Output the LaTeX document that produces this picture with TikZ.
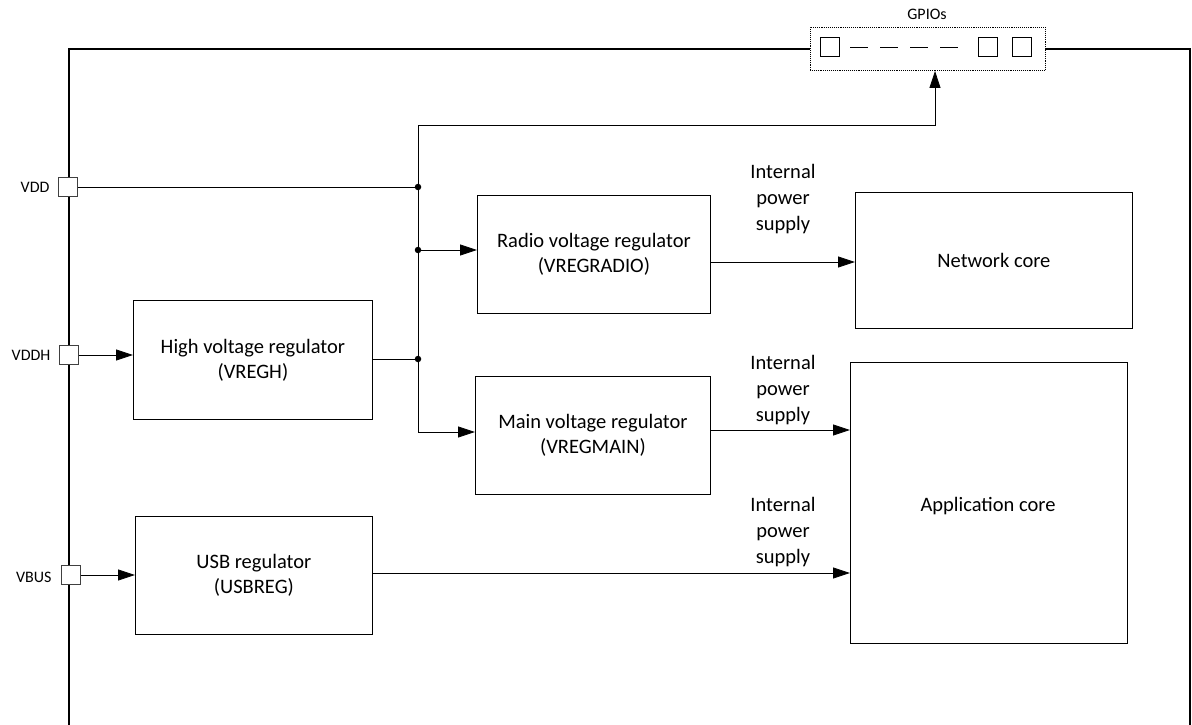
\documentclass[tikz,border=0pt]{standalone}
\usepackage{fontspec}
\setmainfont{Carlito}
\usetikzlibrary{arrows.meta}
\begin{document}
\begin{tikzpicture}[x=1pt,y=-1pt,
  box/.style={draw, line width=0.8pt, fill=white, align=center, inner sep=0pt,
    anchor=north west, font=\fontsize{20.5}{25}\selectfont},
  pin/.style={draw=black!75, line width=0.8pt, fill=white, minimum size=19pt, inner sep=0pt},
  pinlbl/.style={font=\fontsize{16}{18}\selectfont, anchor=east},
  sq/.style={draw, line width=0.8pt, minimum size=19pt, inner sep=0pt},
  wire/.style={line width=0.8pt},
  arr/.style={line width=0.8pt, -{Triangle[length=17pt,width=11pt]}},
  outline/.style={line width=1.6pt},
  dot/.style={circle, fill=black, inner sep=0pt, minimum size=6.5pt},
  lbl/.style={align=center, font=\fontsize{20.5}{26}\selectfont},
]
\useasboundingbox (0,0) rectangle (1192,725);

% GPIO box
\node[draw, densely dotted, line width=0.9pt, minimum width=235pt, minimum height=43pt, inner sep=0pt] (gpio) at (927.5,49) {};
\node[font=\fontsize{16}{18}\selectfont] (gpiolbl) at (927,14) {GPIOs};
\node[sq] (g1) at (830,47) {};
\node[sq] (g2) at (988,47) {};
\node[sq] (g3) at (1022,47) {};
\foreach \x in {850,880,910,940} \draw[wire] (\x,47) -- ++(18,0);

% outline
\coordinate (tl) at (69,49);
\coordinate (bl) at (69,725);
\coordinate (tr) at (1190,49);
\coordinate (br) at (1190,725);
\draw[outline] (bl) -- (tl) -- (gpio.west |- tl);
\draw[outline] (gpio.east |- tr) -- (tr) -- (br);

% boxes
\node[box, minimum width=233pt, minimum height=118pt] (radio) at (477,195) {Radio voltage regulator\\(VREGRADIO)};
\node[box, minimum width=277pt, minimum height=136pt] (net) at (855,192) {Network core};
\node[box, minimum width=239pt, minimum height=119pt] (hv) at (133,300) {High voltage regulator\\(VREGH)};
\node[box, minimum width=235pt, minimum height=118pt] (main) at (475,376) {Main voltage regulator\\(VREGMAIN)};
\node[box, minimum width=277pt, minimum height=281pt] (app) at (850,362) {};
\node[font=\fontsize{20.5}{25}\selectfont] (applbl) at (988,506) {Application core};
\node[box, minimum width=237pt, minimum height=118pt] (usb) at (135,516) {USB regulator\\(USBREG)};

% pins
\node[pin] (vdd) at (68,187) {};
\node[pin] (vddh) at (69,355) {};
\node[pin] (vbus) at (71,575) {};
\node[pinlbl] (vddl) at (53,187) {VDD};
\node[pinlbl] (vddhl) at (54,355) {VDDH};
\node[pinlbl] (vbusl) at (55,577) {VBUS};

% junctions
\coordinate (jt) at (418,125);
\coordinate (gc) at (935,125);
\node[dot] (j1) at (418,187) {};
\node[dot] (j2) at (418,250) {};
\node[dot] (j3) at (418,359) {};
\coordinate (j4) at (418,432);

% wires
\draw[wire] (vdd.east) -- (j1.center);
\draw[arr] (j4) |- (gc) -- (gc |- gpio.south);
\draw[arr] (j2.center) -- (radio.west |- j2);
\draw[arr] (j4) -- (main.west |- j4);
\draw[wire] (hv.east |- j3) -- (j3.center);
\draw[arr] (vddh.east) -- (hv.west |- vddh);
\draw[arr] (vbus.east) -- (usb.west |- vbus);

\coordinate (r1) at (710,262);
\draw[arr] (r1) -- (net.west |- r1);
\coordinate (r2) at (710,430);
\draw[arr] (r2) -- (app.west |- r2);
\coordinate (r3) at (372,573);
\draw[arr] (r3) -- (app.west |- r3);

\node[lbl] (ips1) at (783,199) {Internal\\power\\supply};
\node[lbl] (ips2) at (783,390) {Internal\\power\\supply};
\node[lbl] (ips3) at (783,532) {Internal\\power\\supply};
\end{tikzpicture}
\end{document}
